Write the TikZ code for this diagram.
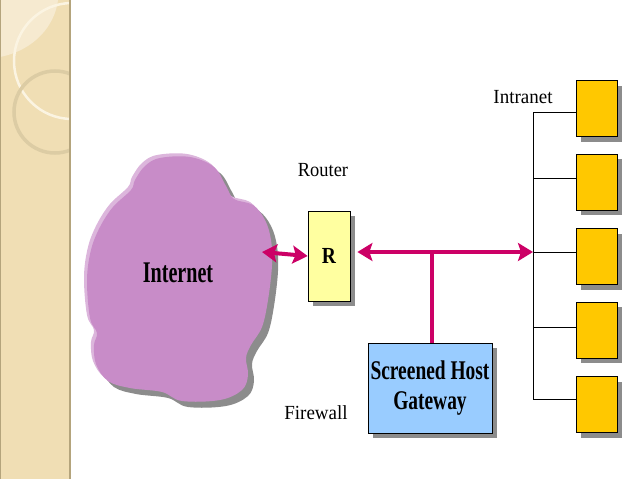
\documentclass[tikz,border=0pt]{standalone}
\usepackage{fontspec}
\setmainfont{Liberation Serif}
\usetikzlibrary{arrows.meta,shadows}
\definecolor{stripc}{HTML}{F0DEB4}
\definecolor{stripl}{HTML}{F6EAD0}
\definecolor{stripedge}{HTML}{B4A47C}
\definecolor{ringa}{HTML}{FBF4E2}
\definecolor{ringb}{HTML}{DCCCA4}
\definecolor{cloudc}{HTML}{C88CC8}
\definecolor{cloudl}{HTML}{DCB6DC}
\definecolor{shadowc}{HTML}{8C8C8C}
\definecolor{routerc}{HTML}{FFFFA0}
\definecolor{gatec}{HTML}{99CCFF}
\definecolor{hostc}{HTML}{FFC800}
\definecolor{linkc}{HTML}{CC0066}
\begin{document}
\begin{tikzpicture}[x=1pt,y=-1pt,
  box/.style={draw=black, line width=0.8pt, inner sep=0pt,
    drop shadow={shadow xshift=5pt, shadow yshift=-5pt, fill=shadowc, opacity=1}},
  host/.style={box, fill=hostc, minimum width=41pt, minimum height=56pt},
  link/.style={draw=linkc, line width=4pt,
    {Stealth[length=15pt,width=18pt,inset=3pt]}-{Stealth[length=15pt,width=18pt,inset=3pt]}},
  stem/.style={draw=linkc, line width=4pt},
  wire/.style={draw=black, line width=0.7pt},
  lbl/.style={inner sep=0pt, font=\fontsize{20}{20}\selectfont}
]
\useasboundingbox (0,0) rectangle (638,479);
% left decorative strip
\fill[stripc] (0,0) rectangle (70,479);
\begin{scope}
  \clip (0,0) rectangle (70,479);
  \fill[stripl] (0,0) -- (58,0) .. controls (55,25) and (35,50) .. (0,57) -- cycle;
  \draw[ringa, line width=2.5pt] (72,61) circle[radius=58];
  \draw[ringb, line width=3.5pt] (55,112) circle[radius=41];
\end{scope}
\draw[stripedge, line width=1.5pt] (70,0) -- (70,479);
\draw[stripedge, line width=1pt] (0.5,0) -- (0.5,479);

% cloud
\def\cloudpath{plot[smooth cycle, tension=0.6] coordinates {
 (135,180) (145,166) (160,158) (190,157) (214,167) (226,186) (234,199)
 (253,205) (265,220) (271,240) (272,265) (268,300) (262,327) (251,345)
 (246,358) (248,375) (242,390) (220,400) (182,401) (162,392) (130,388)
 (108,381) (96,364) (94,345) (97,333) (90,318) (87,280) (91,250)
 (100,227) (113,207) (131,190)}}
\fill[shadowc, shift={(6,6)}] \cloudpath;
\fill[cloudl, shift={(-3,-3)}] \cloudpath;
\fill[cloudc] \cloudpath;
\node[inner sep=0pt, font=\fontsize{30}{30}\selectfont\bfseries] (inet) at (178,273)
  {\scalebox{0.67}[1]{Internet}};
\coordinate (cloudE) at (262,252);

% router
\node[box, fill=routerc, minimum width=42pt, minimum height=90pt] (R) at (329,256)
  {\fontsize{23}{23}\selectfont\bfseries\scalebox{0.85}[1]{R}};
\node[lbl] (rlbl) at (323,170) {\scalebox{0.92}[1]{Router}};

% gateway
\node[box, fill=gatec, minimum width=124pt, minimum height=90pt] (G) at (430,388)
  {\fontsize{27}{30}\selectfont\bfseries\scalebox{0.72}[1]{\begin{tabular}{@{}c@{}}Screened Host\\Gateway\end{tabular}}};
\node[lbl] (flbl) at (316,413) {\scalebox{0.95}[1]{Firewall}};

% intranet hosts
\node[host] (h1) at (596.5,108.5) {};
\node[host] (h2) at (596.5,182) {};
\node[host] (h3) at (596.5,256.5) {};
\node[host] (h4) at (596.5,330) {};
\node[host] (h5) at (596.5,404.5) {};
\node[lbl] (ilbl) at (523,97) {\scalebox{0.95}[1]{Intranet}};

\coordinate (b1) at (533,112);
\coordinate (b2) at (533,178);
\coordinate (b3) at (533,252);
\coordinate (b4) at (533,327);
\coordinate (b5) at (533,399);
\draw[wire] (b1) -- (b5);
\foreach \i in {1,...,5} { \draw[wire] (b\i) -- (b\i -| h\i.west); }

% links
\coordinate (tee) at (432,252);
\draw[stem] (tee) -- (tee |- G.north);
\draw[link] (cloudE) -- (R.west);
\draw[link, shorten <=7pt] (R.east |- b3) -- (b3);
\end{tikzpicture}
\end{document}
